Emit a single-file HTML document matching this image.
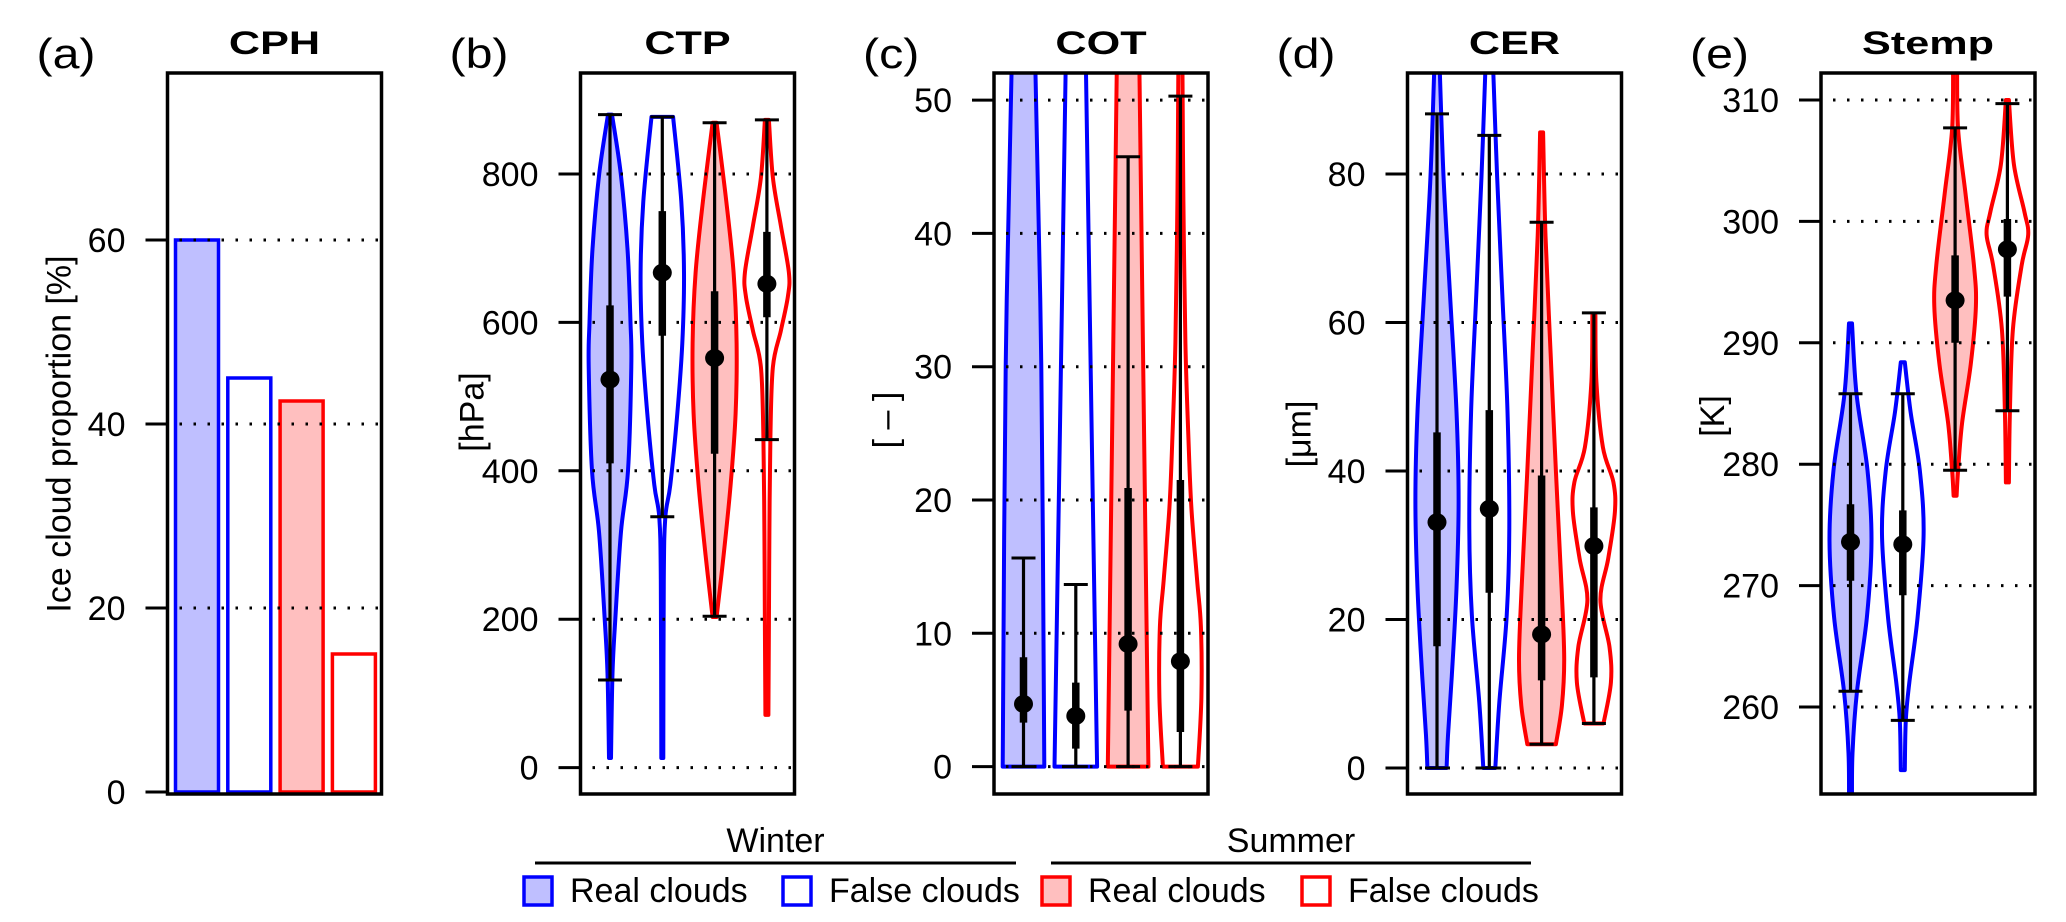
<!DOCTYPE html>
<html><head><meta charset="utf-8">
<style>
html,body{margin:0;padding:0;background:#fff;}
svg{display:block;font-family:"Liberation Sans",Arial,sans-serif;}
</style></head>
<body>
<svg id="fig" width="2066" height="922" viewBox="0 0 2066 922" xmlns="http://www.w3.org/2000/svg">
<defs></defs>
</svg>
<script>
// ---------- data ----------
const cphValues = [60, 45, 42.5, 15];
const cphTicks = [0, 20, 40, 60];

const ctpTicks = [0, 200, 400, 600, 800];
const ctpProfVals = [
  [880,800,699,600,540,400,318,200,127,13],
  [877,763,667,572,477,381,337,254,13],
  [869,763,667,572,477,381,286,203],
  [873,795,730,667,635,589,540,445,318,190,71]];
const ctpProfDens = [
  [2,10.8,17.5,20.5,21.3,18,11,5.3,2.5,1],
  [10.8,19,21.7,20,15,8,3,1.5,1],
  [2,11.7,19,22,21,16,9,2],
  [2,6,14,22,21,14,6,3.5,2.5,2,1.5]];
const ctpHi = [880,877,869,873];
const ctpLo = [118,338,204,442];
const ctpQ3 = [623,750,642,722];
const ctpQ1 = [410,582,423,607];
const ctpMed = [523,667,552,652];

const cotTicks = [0,10,20,30,40,50];
const cotProfVals = [
  [53,30,0],
  [53,26,0],
  [53,26,0],
  [53,42.4,31.8,24.7,19.4,14,10.5,5.2,0]];
const cotProfDens = [
  [11.7,17.8,20.8],
  [10,15.7,21.3],
  [11.2,15.8,20.3],
  [2,3,5,8,11,16.7,20.5,21,17.5]];
const cotHi = [15.65,13.66,45.75,50.3];
const cotLo = [0,0,0,0];
const cotQ3 = [8.2,6.3,20.9,21.5];
const cotQ1 = [3.3,1.35,4.2,2.6];
const cotMed = [4.7,3.8,9.2,7.9];

const cerTicks = [0,20,40,60,80];
const cerProfVals = [
  [96,79.7,63.8,48,36,24.2,12.4,4.4,0],
  [96,79.7,63.8,48,32.3,20.5,8.8,0],
  [85.6,71.7,55.9,40,24.2,14.7,8.4,3.2],
  [61,52,43.2,38.5,34.5,28.2,22.6,16.3,11.5,6]];
const cerProfDens = [
  [2.3,6.5,13,19.5,21.6,19.5,14.8,11,9.6],
  [3.4,7.8,13,18.2,20,17.4,10,6],
  [1.5,3.9,9,14.3,20,22.6,20.3,14.3],
  [1.5,2.5,9,19.5,21,14.3,6.5,15.6,17,9.6]];
const cerHi = [88.1,85.2,73.5,61.3];
const cerLo = [0,0,3.2,6];
const cerQ3 = [45.2,48.2,39.4,35.1];
const cerQ1 = [16.4,23.6,11.8,12.2];
const cerMed = [33.1,34.9,18,29.9];

const stTicks = [260,270,280,290,300,310];
const stProfVals = [
  [291.6,285.8,279.5,273.7,267.4,261.3,256.2,252],
  [288.4,284.3,279.5,274.2,267.4,262,258.9,254.8],
  [313,307.6,302.3,296.4,293,288.2,283.4,279.5,277.4],
  [310,304.7,300.8,298.9,296.4,291.1,284.3,278.5]];
const stProfDens = [
  [1.5,6,17,21,16.4,6.5,2,1.5],
  [2,7.8,17,20.8,14.8,6.5,3,2],
  [2,3,10.4,18.8,20.8,15.6,7,3,1.5],
  [1.5,6.5,17,20.8,14.3,5.5,2.5,1.5]];
const stHi = [285.8,285.8,307.7,309.7];
const stLo = [261.3,258.9,279.5,284.4];
const stQ3 = [276.7,276.2,297.2,300.2];
const stQ1 = [270.4,269.2,290,293.8];
const stMed = [273.6,273.4,293.5,297.7];

// ---------- drawing ----------
const NS = "http://www.w3.org/2000/svg";
const svg = document.getElementById('fig');
const defs = svg.querySelector('defs');
function mk(tag, attrs, parent){
  const e = document.createElementNS(NS, tag);
  for (const k in attrs) e.setAttribute(k, attrs[k]);
  (parent || svg).appendChild(e);
  return e;
}
const BOX_T = 73, BOX_B = 794, BOX_W = 214;
const FILL = ['#BFBFFF', 'none', '#FFBFBF', 'none'];
const STROKE = ['#0000FF', '#0000FF', '#FF0000', '#FF0000'];
const NAMES = ['winter-real', 'winter-false', 'summer-real', 'summer-false'];

function catmull(pts){
  let d = 'M' + pts[0][0].toFixed(2) + ',' + pts[0][1].toFixed(2);
  for (let i = 0; i < pts.length - 1; i++){
    const p0 = pts[Math.max(0, i-1)], p1 = pts[i], p2 = pts[i+1], p3 = pts[Math.min(pts.length-1, i+2)];
    const c1 = [p1[0] + (p2[0]-p0[0])/6, p1[1] + (p2[1]-p0[1])/6];
    const c2 = [p2[0] - (p3[0]-p1[0])/6, p2[1] - (p3[1]-p1[1])/6];
    d += 'C' + c1[0].toFixed(2) + ',' + c1[1].toFixed(2) + ' ' + c2[0].toFixed(2) + ',' + c2[1].toFixed(2) + ' ' + p2[0].toFixed(2) + ',' + p2[1].toFixed(2);
  }
  return d;
}
function catmullCont(pts){ return catmull(pts).replace(/^M[^C]*/, ''); }

function panelFrame(g, L, letter, title, ylab, ticks, yfun, ylabY){
  const lt = mk('text', {x: 0, y: 0, 'font-size': 42, transform: `translate(${L-131},68) scale(1.15,1)`}, g);
  
  
  lt.textContent = '(' + letter + ')';
  const tt = mk('text', {x: 0, y: 0, 'font-size': 32, 'font-weight': 'bold', 'text-anchor': 'middle', transform: `translate(${L+BOX_W/2},54) scale(1.35,1)`}, g);
  
  
  tt.textContent = title;
  ticks.forEach(v => {
    const tl = mk('line', {x1: L-22, x2: L, y1: yfun(v), y2: yfun(v), stroke: '#000', 'stroke-width': 3}, g);
    
    
    const tx = mk('text', {x: L-42, y: yfun(v)+12, 'font-size': 34, 'text-anchor': 'end'}, g);
    
    
    tx.textContent = v;
  });
  const yl = mk('text', {x: 0, y: 0, 'font-size': 34, 'text-anchor': 'middle', transform: `translate(${L-97},${ylabY}) rotate(-90)`}, g);
  
  
  yl.textContent = ylab;
}
function drawGrid(g, L, yfun, gridTicks){
  gridTicks.forEach(v => {
    const gl = mk('line', {x1: L+12, x2: L+BOX_W-2, y1: yfun(v), y2: yfun(v), stroke: '#000', 'stroke-width': 3, 'stroke-dasharray': '2.5 11.5'}, g);
    
    
  });
}
function frameBox(g, L){
  const r = mk('rect', {x: L, y: BOX_T, width: BOX_W, height: BOX_B-BOX_T, fill: 'none', stroke: '#000', 'stroke-width': 3.5}, g);
  
  
}

function violinPanel(idx, L, letter, title, ylab, ticks, yfun, vals, dens, hi, lo, q3, q1, med, ylabY){
  const g = mk('g', {});
  
  
  panelFrame(g, L, letter, title, ylab, ticks, yfun, ylabY);
  const cp = mk('clipPath', {id: 'clip' + idx}, defs);
  mk('rect', {x: L+1.5, y: BOX_T+1.5, width: BOX_W-3, height: BOX_B-BOX_T-3}, cp);
  const vg = mk('g', {'clip-path': `url(#clip${idx})`}, g);
  for (let i = 0; i < 4; i++){
    const cx = L + 29.5 + 52.3*i;
    const right = vals[i].map((v, k) => [cx + dens[i][k], yfun(v)]);
    const left = vals[i].map((v, k) => [cx - dens[i][k], yfun(v)]).reverse();
    const d = catmull(right) + 'L' + left[0][0].toFixed(2) + ',' + left[0][1].toFixed(2) + catmullCont(left) + 'Z';
    const p = mk('path', {d: d, fill: FILL[i], stroke: STROKE[i], 'stroke-width': 4, 'stroke-linejoin': 'round'}, vg);
    
    
  }
  drawGrid(g, L, yfun, ticks);
  for (let i = 0; i < 4; i++){
    const cx = L + 29.5 + 52.3*i;
    const wl = mk('line', {x1: cx, x2: cx, y1: yfun(hi[i]), y2: yfun(lo[i]), stroke: '#000', 'stroke-width': 3.2}, g);
    
    
    [hi[i], lo[i]].forEach(v => {
      const c = mk('line', {x1: cx-12, x2: cx+12, y1: yfun(v), y2: yfun(v), stroke: '#000', 'stroke-width': 3}, g);
      
      
    });
    const qb = mk('line', {x1: cx, x2: cx, y1: yfun(q3[i]), y2: yfun(q1[i]), stroke: '#000', 'stroke-width': 7.5}, g);
    
    
    const md = mk('ellipse', {cx: cx, cy: yfun(med[i]), rx: 9.5, ry: 9, fill: '#000'}, g);
    
    
  }
  frameBox(g, L);
}

// Panel (a) bars
(function(){
  const L = 167.5;
  const y = v => 792 - 9.2*v;
  const g = mk('g', {});
  
  
  panelFrame(g, L, 'a', 'CPH', 'Ice cloud proportion [%]', cphTicks, y, 434);
  cphValues.forEach((v, i) => {
    const cx = L + 29.5 + 52.3*i;
    const r = mk('rect', {x: cx-21.5, y: y(v), width: 43, height: y(0)-y(v), fill: FILL[i] === 'none' ? '#fff' : FILL[i], stroke: STROKE[i], 'stroke-width': 3.5}, g);
    
    
  });
  drawGrid(g, L, y, cphTicks.filter(v => v > 0));
  frameBox(g, L);
})();

violinPanel(1, 580.5, 'b', 'CTP', '[hPa]', ctpTicks, v => 767.6 - 0.742*v,
  ctpProfVals, ctpProfDens, ctpHi, ctpLo, ctpQ3, ctpQ1, ctpMed, 412);
violinPanel(2, 994, 'c', 'COT', '[ \u2013 ]', cotTicks, v => 766.6 - 13.33*v,
  cotProfVals, cotProfDens, cotHi, cotLo, cotQ3, cotQ1, cotMed, 420);
violinPanel(3, 1407.5, 'd', 'CER', '[\u03bcm]', cerTicks, v => 768 - 7.425*v,
  cerProfVals, cerProfDens, cerHi, cerLo, cerQ3, cerQ1, cerMed, 434);
violinPanel(4, 1821, 'e', 'Stemp', '[K]', stTicks, v => 100 + (310 - v)*12.14,
  stProfVals, stProfDens, stHi, stLo, stQ3, stQ1, stMed, 416);

// ---------- legend ----------
(function(){
  const g = mk('g', {});
  
  
  const seasons = [['Winter', 535, 1016], ['Summer', 1051, 1531]];
  seasons.forEach(s => {
    const t = mk('text', {x: (s[1]+s[2])/2, y: 852, 'font-size': 34, 'text-anchor': 'middle'}, g);
    
    
    t.textContent = s[0];
    const l = mk('line', {x1: s[1], x2: s[2], y1: 863, y2: 863, stroke: '#000', 'stroke-width': 3}, g);
    
    
  });
  const boxX = [524, 783, 1042, 1302];
  const labels = ['Real clouds', 'False clouds', 'Real clouds', 'False clouds'];
  boxX.forEach((x, i) => {
    const r = mk('rect', {x: x, y: 877, width: 28, height: 28, fill: FILL[i] === 'none' ? '#fff' : FILL[i], stroke: STROKE[i], 'stroke-width': 3.5}, g);
    
    
    const t = mk('text', {x: x + 46, y: 902, 'font-size': 34}, g);
    
    
    t.textContent = labels[i];
  });
})();
</script>
</body></html>
